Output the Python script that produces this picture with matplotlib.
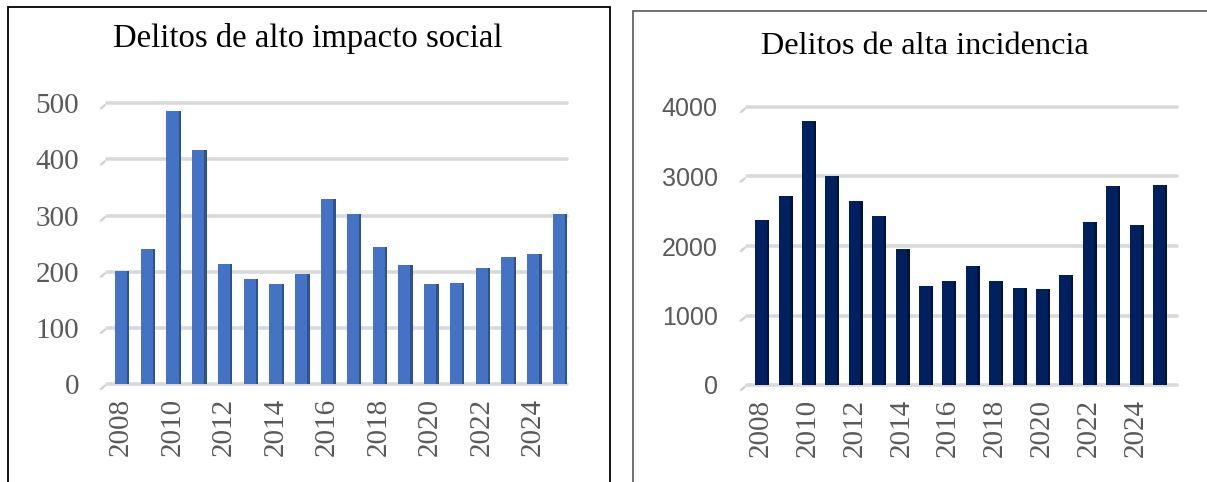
import matplotlib
import matplotlib.pyplot as plt
from matplotlib.patches import Rectangle

matplotlib.use("Agg")

years = list(range(2008, 2026))
alto_impacto = [202, 240, 486, 416, 214, 187, 179, 196, 330, 303, 244, 212, 179, 180, 206, 227, 232, 303]
alta_incidencia = [2380, 2720, 3800, 3000, 2650, 2430, 1960, 1420, 1500, 1710, 1490, 1400, 1385, 1580, 2340, 2860, 2300, 2880]
tick_years = years[::2]

SERIF = ["Liberation Serif", "DejaVu Serif"]
SANS = ["Liberation Sans", "DejaVu Sans"]
GRAY_TEXT = "#595959"

fig = plt.figure(figsize=(12.07, 4.82), dpi=100)
W, H = 1207, 482


def px_axes(x0, y_top, x1, y_bot):
    return fig.add_axes([x0 / W, 1 - y_bot / H, (x1 - x0) / W, (y_bot - y_top) / H])


def draw_panel(ax, values, ymax, step, front, side, width, xlim, ytick_font, ytick_size, ypad):
    x = list(range(len(values)))
    ax.set_xlim(*xlim)
    ax.set_ylim(0, ymax)
    # gridlines with a small slanted tail like the 3D Excel floor
    for yv in range(0, ymax + 1, step):
        ax.plot([xlim[0], xlim[1]], [yv, yv], color="#d9d9d9", lw=2.6,
                solid_capstyle="round", zorder=1, clip_on=False)
        ax.annotate("", xy=(0, yv), xycoords=("axes fraction", "data"),
                    xytext=(-6, -5), textcoords="offset points",
                    arrowprops=dict(arrowstyle="-", color="#d0d0d0", lw=1.6))
    side_w = width * 0.22
    ax.bar([i + width / 2 + side_w / 2 - 0.01 for i in x], values, width=side_w,
           color=side, zorder=2, linewidth=0)
    ax.bar(x, values, width=width, color=front, zorder=3, linewidth=0)
    for s in ax.spines.values():
        s.set_visible(False)
    ax.set_yticks(range(0, ymax + 1, step))
    ax.set_yticklabels([str(v) for v in range(0, ymax + 1, step)],
                       family=ytick_font, fontsize=ytick_size, color=GRAY_TEXT)
    ax.set_xticks([years.index(y) for y in tick_years])
    ax.set_xticklabels([str(y) for y in tick_years], rotation=90,
                       family=SERIF, fontsize=21, color=GRAY_TEXT)
    ax.tick_params(axis="y", length=0, pad=ypad)
    ax.tick_params(axis="x", length=0, pad=10)


ax1 = px_axes(107, 103.3, 567, 384)
draw_panel(ax1, alto_impacto, 500, 100, "#4472c4", "#2f528f", 0.47,
           (-0.54, 17.31), SERIF, 21, 20)

ax2 = px_axes(747, 107, 1177, 385)
draw_panel(ax2, alta_incidencia, 4000, 1000, "#002060", "#00133d", 0.5,
           (-0.6, 17.78), SANS, 18, 21)

fig.text(308 / W, 1 - 38 / H, "Delitos de alto impacto social", ha="center", va="center",
         family=SERIF, fontsize=23.6, color="black")
fig.text(925 / W, 1 - 47 / H, "Delitos de alta incidencia", ha="center", va="center",
         family=SERIF, fontsize=23.3, color="black")

# panel frames
fig.patches.append(Rectangle((8 / W, -0.02), (610 - 8) / W, 1 - 7 / H + 0.02,
                             transform=fig.transFigure, fill=False, ec="black", lw=1.3))
fig.patches.append(Rectangle((633 / W, -0.02), (1220 - 633) / W, 1 - 11 / H + 0.02,
                             transform=fig.transFigure, fill=False, ec="#4a4a4a", lw=1.1))

fig.savefig("out.png", dpi=100)
plt.close(fig)
